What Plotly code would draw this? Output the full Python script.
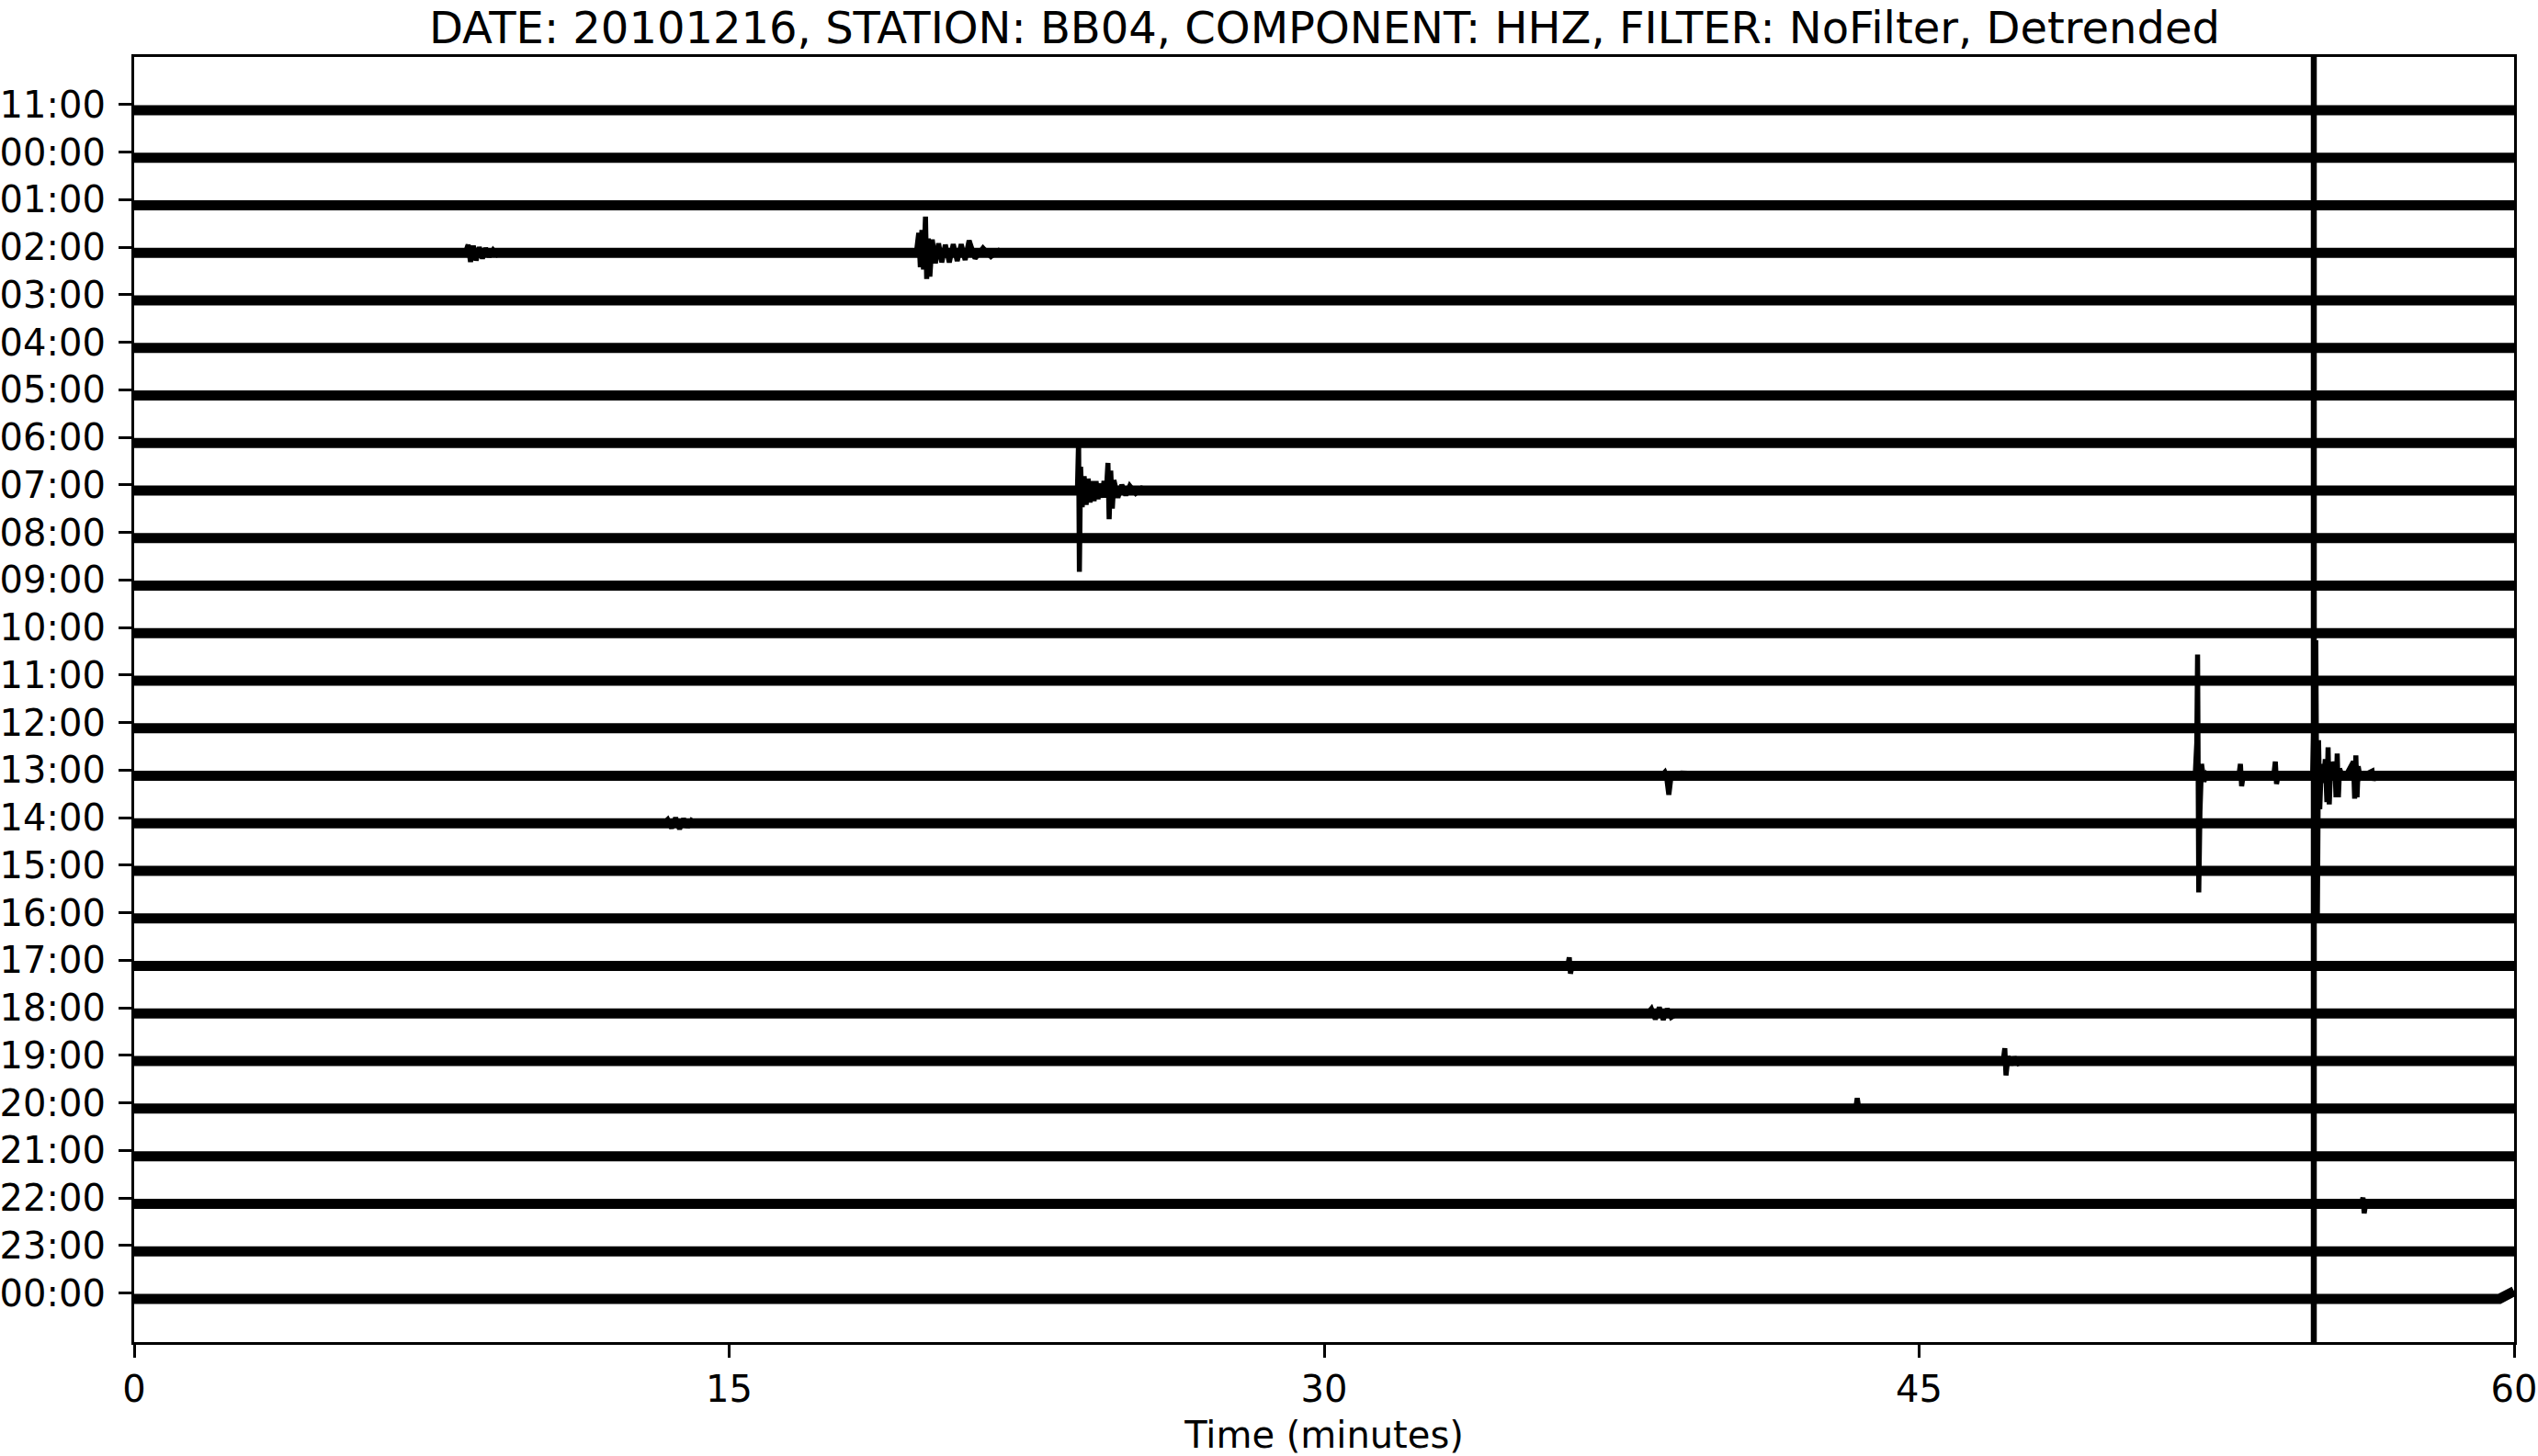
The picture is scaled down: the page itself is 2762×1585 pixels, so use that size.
import plotly.graph_objects as go

# ---------------- data ----------------
row_labels = ["11:00", "00:00", "01:00", "02:00", "03:00", "04:00", "05:00", "06:00",
              "07:00", "08:00", "09:00", "10:00", "11:00", "12:00", "13:00", "14:00",
              "15:00", "16:00", "17:00", "18:00", "19:00", "20:00", "21:00", "22:00",
              "23:00", "00:00"]
row_positions = [-i for i in range(len(row_labels))]
trace_offset = -0.12          # traces sit slightly below their tick (detrended mean)
x_ticks = [0, 15, 30, 45, 60]
marker_minute = 54.95          # vertical marker line (minutes)

# Seismic events: minutes and amplitudes (in row-spacing units, + = up)
ev_0200_a_row = 3
ev_0200_a_min = [8.35, 8.42, 8.48, 8.55, 8.62, 8.70, 8.78, 8.86, 8.95, 9.05, 9.15, 9.25]
ev_0200_a_amp = [0, 0.17, -0.19, 0.15, -0.16, 0.12, -0.12, 0.10, -0.08, 0.06, -0.04, 0]

ev_0200_b_row = 3
ev_0200_b_min = [19.72, 19.78, 19.82, 19.86, 19.90, 19.95, 19.98, 20.02, 20.06, 20.12, 20.20,
                 20.28, 20.36, 20.45, 20.55, 20.65, 20.75, 20.85, 20.95, 21.05, 21.20, 21.40,
                 21.60, 21.80, 22.00]
ev_0200_b_amp = [0, 0.42, -0.30, 0.48, -0.35, 0.76, -0.55, 0.30, -0.50, 0.28, -0.22, 0.20,
                 -0.20, 0.17, -0.20, 0.18, -0.17, 0.18, -0.15, 0.26, -0.12, 0.10, -0.08, 0.05, 0]

ev_0700_row = 8
ev_0700_min = [23.78, 23.81, 23.83, 23.86, 23.90, 23.95, 24.00, 24.05, 24.10, 24.15, 24.20,
               24.25, 24.30, 24.35, 24.40, 24.45, 24.50, 24.55, 24.58, 24.62, 24.66, 24.70,
               24.80, 24.90, 25.00, 25.10, 25.25, 25.40, 25.60]
ev_0700_amp = [0, 1.07, -1.71, 0.50, -0.35, 0.30, -0.30, 0.25, -0.25, 0.20, -0.22, 0.20,
               -0.18, 0.15, -0.15, 0.20, -0.15, 0.58, -0.60, 0.42, -0.38, 0.22, -0.15, 0.12,
               -0.10, 0.10, -0.06, 0.05, 0]

ev_1300_a_row = 14
ev_1300_a_min = [38.50, 38.59, 38.63, 38.69, 38.74, 38.85, 39.00, 39.30, 39.70, 40.10, 40.40]
ev_1300_a_amp = [0, 0.08, 0.0, -0.40, -0.05, 0.03, 0.06, 0.06, 0.04, 0.01, 0]

ev_1300_b_row = 14
ev_1300_b_min = [51.96, 52.00, 52.02, 52.05, 52.08, 52.12, 52.18, 52.25, 52.35,
                 53.06, 53.10, 53.13, 53.17, 53.94, 53.98, 54.01, 54.05, 54.56, 54.60, 54.64]
ev_1300_b_amp = [0, 0.70, 2.55, -2.45, -0.75, 0.25, -0.12, 0.05, 0,
                 0, 0.25, -0.22, 0, 0, 0.30, -0.17, 0, 0, 0.08, 0]

ev_1300_c_row = 14
ev_1300_c_min = [54.92, 55.00, 55.04, 55.07, 55.10, 55.14, 55.19, 55.24, 55.28, 55.31, 55.34,
                 55.38, 55.42, 55.48, 55.51, 55.54, 55.57, 55.60, 55.70, 55.80, 55.95, 55.98,
                 56.01, 56.04, 56.07, 56.12, 56.25, 56.42, 56.45, 56.48, 56.60]
ev_1300_c_amp = [0, 2.85, -2.95, 0.75, -0.70, 0.25, -0.15, 0.35, -0.55, 0.60, -0.60,
                 0.30, -0.10, 0.30, -0.45, 0.47, -0.45, 0.15, -0.08, 0.06, 0.30, -0.48,
                 0.43, -0.45, 0.20, -0.05, 0.03, 0.10, -0.10, 0, 0]

ev_1400_row = 15
ev_1400_min = [13.35, 13.45, 13.55, 13.65, 13.75, 13.85, 13.95, 14.05, 14.15]
ev_1400_amp = [0, 0.08, -0.10, 0.12, -0.12, 0.10, -0.08, 0.06, 0]

ev_1700_row = 18
ev_1700_min = [36.14, 36.18, 36.21, 36.25]
ev_1700_amp = [0, 0.18, -0.16, 0]

ev_1800_row = 19
ev_1800_min = [38.15, 38.25, 38.35, 38.45, 38.55, 38.65, 38.75, 38.90]
ev_1800_amp = [0, 0.10, -0.12, 0.13, -0.13, 0.10, -0.08, 0]

ev_1900_row = 20
ev_1900_min = [47.12, 47.16, 47.19, 47.24, 47.32, 47.40, 47.50, 47.62]
ev_1900_amp = [0, 0.27, -0.30, 0.10, -0.08, 0.08, -0.05, 0]

ev_2000_row = 21
ev_2000_min = [43.40, 43.44, 43.48]
ev_2000_amp = [0, 0.22, 0]

ev_2200_row = 23
ev_2200_min = [56.15, 56.19, 56.22, 56.26]
ev_2200_amp = [0, 0.13, -0.20, 0]

# drift at the end of the last row
last_row_drift_min = [59.63, 60.0]
last_row_drift_amp = [0.0, 0.16]

events = [
    (ev_0200_a_row, ev_0200_a_min, ev_0200_a_amp),
    (ev_0200_b_row, ev_0200_b_min, ev_0200_b_amp),
    (ev_0700_row, ev_0700_min, ev_0700_amp),
    (ev_1300_a_row, ev_1300_a_min, ev_1300_a_amp),
    (ev_1300_b_row, ev_1300_b_min, ev_1300_b_amp),
    (ev_1300_c_row, ev_1300_c_min, ev_1300_c_amp),
    (ev_1400_row, ev_1400_min, ev_1400_amp),
    (ev_1700_row, ev_1700_min, ev_1700_amp),
    (ev_1800_row, ev_1800_min, ev_1800_amp),
    (ev_1900_row, ev_1900_min, ev_1900_amp),
    (ev_2000_row, ev_2000_min, ev_2000_amp),
    (ev_2200_row, ev_2200_min, ev_2200_amp),
]

# ---------------- figure ----------------
FONT = "DejaVu Sans"
fig = go.Figure()

# baseline noise bands
bx, by = [], []
for i, pos in enumerate(row_positions):
    base = pos + trace_offset
    if i == len(row_positions) - 1:
        xs = [0] + last_row_drift_min
        ys = [base] + [base + a for a in last_row_drift_amp]
    else:
        xs = [0, 60]
        ys = [base, base]
    bx += xs + [None]
    by += ys + [None]
fig.add_trace(go.Scatter(x=bx, y=by, mode="lines",
                         line=dict(color="black", width=11),
                         hoverinfo="skip", showlegend=False))

# event waveforms
ex, ey = [], []
for row, mins, amps in events:
    base = row_positions[row] + trace_offset
    ex += list(mins) + [None]
    ey += [base + a for a in amps] + [None]
fig.add_trace(go.Scatter(x=ex, y=ey, mode="lines",
                         line=dict(color="black", width=5.5),
                         hoverinfo="skip", showlegend=False))

# vertical marker
fig.add_shape(type="line", xref="x", yref="paper", x0=marker_minute, x1=marker_minute,
              y0=0, y1=1, line=dict(color="black", width=6.5))

fig.add_annotation(text="DATE: 20101216, STATION: BB04, COMPONENT: HHZ, FILTER: NoFilter, Detrended",
                   xref="paper", yref="paper", x=0.5, y=1, xanchor="center", yanchor="bottom",
                   yshift=2, showarrow=False, font=dict(family=FONT, size=48, color="black"))

axis_common = dict(showgrid=False, zeroline=False, showline=True, linecolor="black",
                   linewidth=3.3, mirror=True, ticks="outside", ticklen=14, tickwidth=3.3,
                   tickcolor="black", automargin=False, ticklabeloverflow="allow",
                   tickfont=dict(family=FONT, size=40, color="black"))

fig.update_xaxes(range=[0, 60], tickvals=x_ticks, ticktext=[str(v) for v in x_ticks],
                 title=dict(text="Time (minutes)", font=dict(family=FONT, size=40, color="black"),
                            standoff=14),
                 **axis_common)
fig.update_yaxes(range=[-26.03, 1.0], tickvals=row_positions, ticktext=row_labels,
                 ticklabelstandoff=6, **axis_common)

fig.update_layout(width=2762, height=1585,
                  margin=dict(l=146, r=26, t=62, b=124, pad=0),
                  plot_bgcolor="white", paper_bgcolor="white",
                  font=dict(family=FONT, color="black"))

fig.write_html("out.html")
